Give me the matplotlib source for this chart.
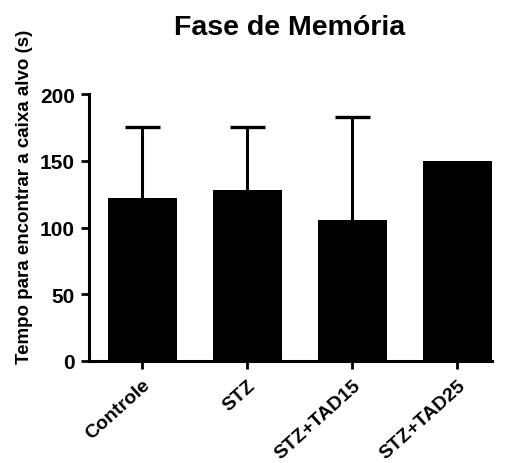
import numpy as np
import matplotlib.pyplot as plt

plt.rcParams['font.family'] = ['Liberation Sans', 'DejaVu Sans']
plt.rcParams['font.weight'] = 'bold'

groups = ['Controle', 'STZ', 'STZ+TAD15', 'STZ+TAD25']
means = [122, 128.5, 105.5, 150]
upper_err = [53.5, 47, 77, 0]

fig = plt.figure(figsize=(5.05, 4.64), dpi=100)
ax = fig.add_axes([0.176, 0.22, 0.798, 0.575])

x = np.arange(len(groups))
m = np.array(means)
e = np.array(upper_err)
ax.bar(x, m, width=0.66, color='black', zorder=2)
has = e > 0
ax.vlines(x[has], m[has], m[has] + e[has], color='black', lw=2.2, zorder=1)
ax.hlines(m[has] + e[has], x[has] - 0.165, x[has] + 0.165, color='black', lw=2.4, zorder=1)

ax.set_xlim(-0.51, 3.33)
ax.set_ylim(0, 200)
ax.set_yticks([0, 50, 100, 150, 200])
ax.set_xticks(x)
ax.set_xticklabels(groups, rotation=42, ha='right', va='top', rotation_mode='anchor',
                   fontsize=14, fontweight='bold')
ax.tick_params(axis='y', labelsize=15, width=2, length=6, pad=4)
ax.tick_params(axis='x', width=2, length=6, pad=5)
for lbl in ax.get_yticklabels():
    lbl.set_fontweight('bold')

for s in ['top', 'right']:
    ax.spines[s].set_visible(False)
for s in ['left', 'bottom']:
    ax.spines[s].set_linewidth(2.2)

fig.text(25 / 505, 1 - 197 / 464, 'Tempo para encontrar a caixa alvo (s)', rotation=90,
         ha='center', va='center', fontsize=13.5, fontweight='bold')
fig.text(0.574, 1 - 35 / 464, 'Fase de Memória', ha='center', va='baseline', fontsize=20.5, fontweight='bold')

fig.savefig('out.png', dpi=100)
